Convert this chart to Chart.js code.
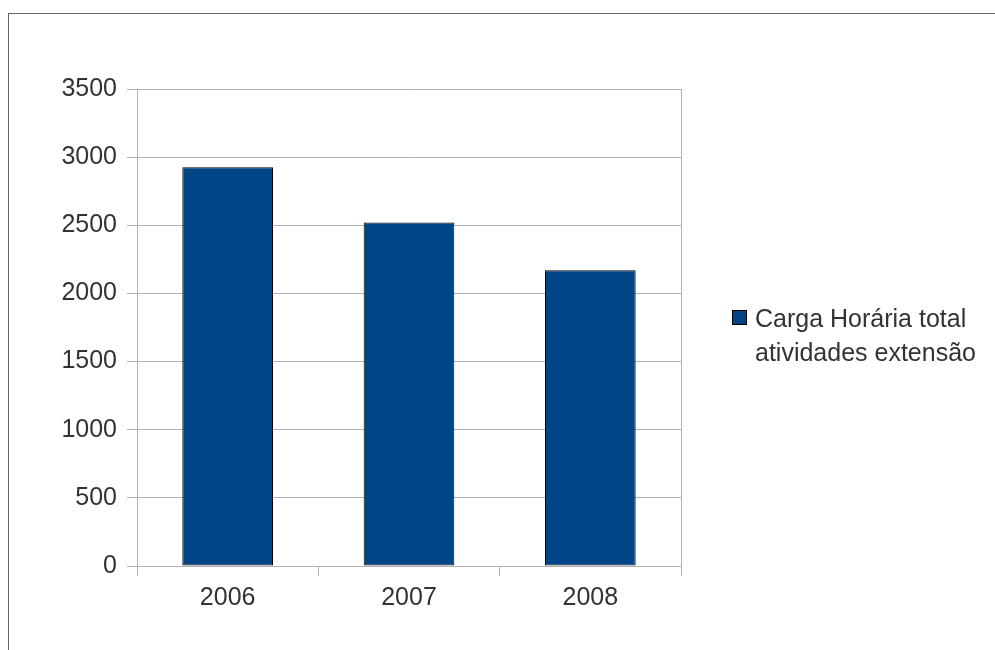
<!DOCTYPE html>
<html>
<head>
<meta charset="utf-8">
<script src="https://cdn.jsdelivr.net/npm/chart.js"></script>
<style>
    body {
        margin: 0;
        background: #fff;
    }

    #frame {
        position: absolute;
        left: 8px;
        top: 13px;
        right: 0;
        bottom: 0;
        border-top: 1px solid #666;
        border-left: 1px solid #666;
    }

    #cargaChart {
        position: absolute;
        left: 0;
        top: 0;
    }
</style>
</head>
<body>
<div id="frame"></div>
<canvas id="cargaChart" width="995" height="650"></canvas>

<script>
    const years = ['2006', '2007', '2008'];
    const cargaHoraria = [2925, 2520, 2170];
    const legendLines = ['Carga Horária total', 'atividades extensão'];
    const yMax = 3500;
    const yStep = 500;

    const textColor = '#333';
    const gridColor = '#b3b3b3';
    const barColor = '#004586';
    const fontFamily = '"Liberation Sans", Arial, sans-serif';

    // right edge of the plot area plus the side legend
    const sideLegend = {
        id: 'sideLegend',
        afterDraw(chart) {
            const ctx = chart.ctx;
            const area = chart.chartArea;
            ctx.save();
            ctx.strokeStyle = gridColor;
            ctx.lineWidth = 1;
            ctx.beginPath();
            ctx.moveTo(Math.round(area.right) + 0.5, area.top);
            ctx.lineTo(Math.round(area.right) + 0.5, area.bottom);
            ctx.stroke();

            const ds = chart.data.datasets[0];
            ctx.fillStyle = ds.backgroundColor;
            ctx.fillRect(732, 310, 15, 15);
            ctx.strokeStyle = '#000';
            ctx.strokeRect(732.5, 310.5, 14, 14);

            ctx.fillStyle = textColor;
            ctx.font = '25px ' + fontFamily;
            ctx.textBaseline = 'alphabetic';
            legendLines.forEach((line, i) => {
                ctx.fillText(line, 755, 327 + i * 34);
            });
            ctx.restore();
        }
    };

    new Chart(document.getElementById('cargaChart'), {
        type: 'bar',
        data: {
            labels: years,
            datasets: [{
                label: legendLines.join(' '),
                data: cargaHoraria,
                backgroundColor: barColor,
                borderColor: '#000',
                borderWidth: 1,
                borderSkipped: false,
                barPercentage: 0.5,
                categoryPercentage: 1
            }]
        },
        options: {
            responsive: false,
            animation: false,
            layout: {
                padding: { top: 89, right: 314, bottom: 0, left: 0 }
            },
            plugins: {
                legend: { display: false },
                tooltip: { enabled: false }
            },
            scales: {
                x: {
                    afterFit: scale => { scale.height = 84; },
                    border: { display: true, color: gridColor },
                    grid: {
                        offset: true,
                        drawOnChartArea: false,
                        tickLength: 10,
                        tickColor: gridColor
                    },
                    ticks: {
                        color: textColor,
                        padding: 7,
                        font: { family: fontFamily, size: 25 }
                    }
                },
                y: {
                    min: 0,
                    max: yMax,
                    afterFit: scale => { scale.width = 137; },
                    border: { display: true, color: gridColor },
                    grid: {
                        color: gridColor,
                        tickLength: 10
                    },
                    ticks: {
                        stepSize: yStep,
                        color: textColor,
                        padding: 10,
                        font: { family: fontFamily, size: 25 },
                        callback: v => String(v)
                    }
                }
            }
        },
        plugins: [sideLegend]
    });
</script>
</body>
</html>
